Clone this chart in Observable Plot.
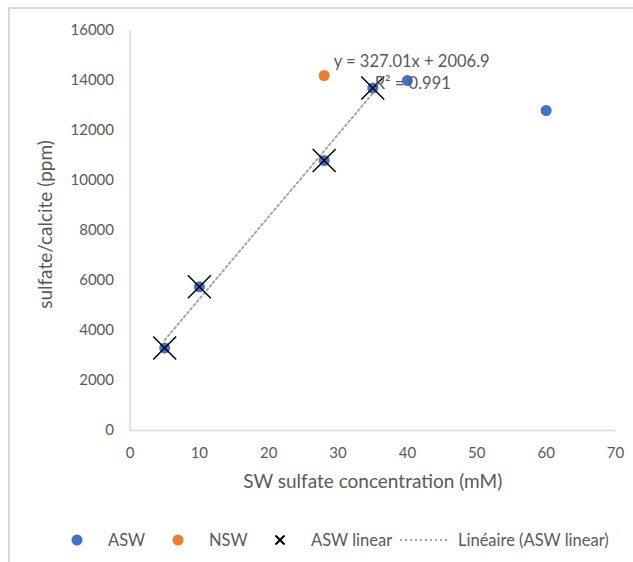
<!DOCTYPE html>
<html>
<head>
<meta charset="utf-8">
<script src="https://cdn.jsdelivr.net/npm/d3@7"></script>
<script src="https://cdn.jsdelivr.net/npm/@observablehq/plot@0.6"></script>
<style>
  html, body { margin: 0; padding: 0; background: #fff; }
  #wrap { position: relative; width: 633px; height: 562px; overflow: hidden; font-family: Lato, "Open Sans", sans-serif; color: #595959; }
  #frame { position: absolute; left: 8px; top: 7px; width: 640px; height: 600px; border-left: 2px solid #d9d9d9; border-top: 2px solid #d9d9d9; }
  #chart { position: absolute; left: 0; top: 0; }
  #legend { position: absolute; left: 0; top: 528px; width: 633px; height: 24px; font-size: 16.5px; }
  #legend .item { position: absolute; top: 0; display: flex; align-items: center; height: 24px; white-space: nowrap; }
  #legend svg { display: block; }
</style>
</head>
<body>
<div id="wrap">
  <div id="frame"></div>
  <div id="chart"></div>
  <div id="legend"></div>
</div>
<script>
// Data
const aswX = [5, 10, 28, 35, 40, 60];
const aswY = [3300, 5750, 10800, 13700, 14000, 12800];
const nswX = [28];
const nswY = [14200];
const linX = [5, 10, 28, 35];
const linY = [3300, 5750, 10800, 13700];
const xTicks = [0, 10, 20, 30, 40, 50, 60, 70];
const yTicks = [0, 2000, 4000, 6000, 8000, 10000, 12000, 14000, 16000];
const xTitle = ["SW sulfate concentration (mM)"];
const yTitle = ["sulfate/calcite (ppm)"];
const equationLines = ["y = 327.01x + 2006.9", "R² = 0.991"];
const legendItems = [
  {label: "ASW", kind: "dot", color: "#4472C4"},
  {label: "NSW", kind: "dot", color: "#ED7D31"},
  {label: "ASW linear", kind: "times", color: "#000"},
  {label: "Linéaire (ASW linear)", kind: "line", color: "#a6a6a6"}
];

const asw = aswX.map((x, i) => ({x, y: aswY[i]}));
const nsw = nswX.map((x, i) => ({x, y: nswY[i]}));
const lin = linX.map((x, i) => ({x, y: linY[i]}));
const lastLin = lin[lin.length - 1];

const textColor = "#595959";
const axisColor = "#d9d9d9";

const plot = Plot.plot({
  width: 633,
  height: 500,
  marginLeft: 129.5,
  marginRight: 18,
  marginTop: 30,
  marginBottom: 70,
  style: {fontFamily: "Lato, 'Open Sans', sans-serif", fontSize: "15px", color: textColor, background: "transparent"},
  x: {domain: [0, 70], ticks: xTicks},
  y: {domain: [0, 16000], ticks: yTicks},
  marks: [
    Plot.ruleY([0], {stroke: axisColor, strokeWidth: 1.5}),
    Plot.ruleX([0], {stroke: axisColor, strokeWidth: 1.5}),
    Plot.axisX({ticks: xTicks, tickSize: 0, tickPadding: 17, tickFormat: d => String(d), fill: textColor, label: null, fontSize: 15}),
    Plot.axisY({ticks: yTicks, tickSize: 0, tickPadding: 16, tickFormat: d => String(d), fill: textColor, label: null, fontSize: 15}),
    Plot.text(xTitle, {text: d => d, frameAnchor: "bottom", textAnchor: "middle", dy: 57, fill: textColor, fontSize: 19}),
    Plot.text(yTitle, {text: d => d, frameAnchor: "left", textAnchor: "middle", rotate: -90, dx: -84, dy: -6, fill: textColor, fontSize: 19}),
    Plot.linearRegressionY(lin, {x: "x", y: "y", ci: 0, stroke: "#a6a6a6", strokeWidth: 2, strokeDasharray: "2,3"}),
    Plot.dot(asw, {x: "x", y: "y", r: 5.5, fill: "#4472C4"}),
    Plot.dot(nsw, {x: "x", y: "y", r: 5.5, fill: "#ED7D31"}),
    Plot.dot(lin, {x: "x", y: "y", symbol: "times", r: 10.5, stroke: "#000", strokeWidth: 1.5}),
    Plot.text([lastLin], {x: "x", y: "y", text: () => equationLines[0], textAnchor: "start", dx: -39, dy: -26.5, fill: textColor, fontSize: 16.5}),
    Plot.text([lastLin], {x: "x", y: "y", text: () => equationLines[1], textAnchor: "start", dx: 2, dy: -4.5, fill: textColor, fontSize: 16.5})
  ]
});
document.getElementById("chart").appendChild(plot);

// Legend
const legendPos = [[70, 108], [171, 209], [273, 311], [400, 458]];
const leg = document.getElementById("legend");
legendItems.forEach((it, i) => {
  const sym = document.createElement("div");
  sym.className = "item";
  const [sx, tx] = legendPos[i];
  let svg;
  if (it.kind === "dot") svg = `<svg width="14" height="14"><circle cx="7" cy="7" r="5.5" fill="${it.color}"/></svg>`;
  else if (it.kind === "times") svg = `<svg width="14" height="14"><path d="M2.5,2.5L11.5,11.5M11.5,2.5L2.5,11.5" stroke="#000" stroke-width="2"/></svg>`;
  else svg = `<svg width="50" height="14"><line x1="0" y1="7" x2="50" y2="7" stroke="${it.color}" stroke-width="2" stroke-dasharray="2,3"/></svg>`;
  sym.innerHTML = svg;
  sym.style.left = sx + "px";
  leg.appendChild(sym);
  const lab = document.createElement("div");
  lab.className = "item";
  lab.textContent = it.label;
  lab.style.left = tx + "px";
  leg.appendChild(lab);
});
</script>
</body>
</html>
